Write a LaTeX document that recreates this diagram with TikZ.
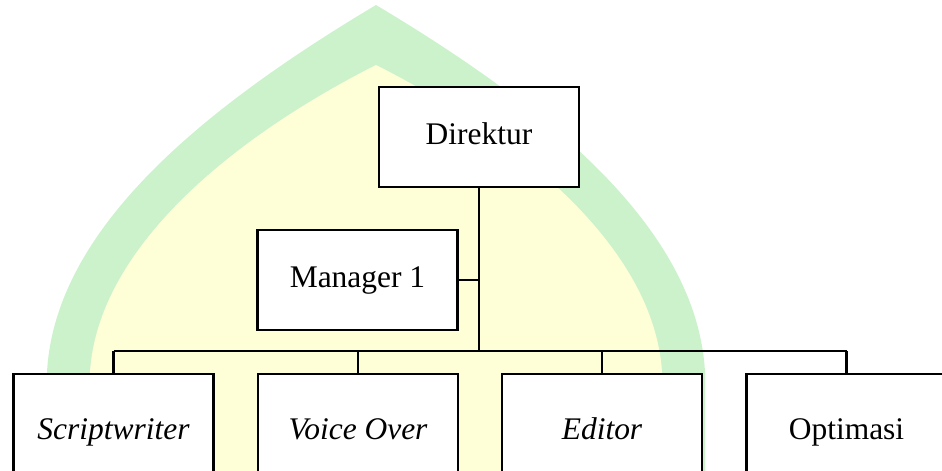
\documentclass[tikz,border=0pt]{standalone}
\usepackage{fontspec}
\setmainfont{Liberation Serif}
\definecolor{domegreen}{RGB}{204,242,204}
\definecolor{domeyellow}{RGB}{255,255,215}
\tikzset{
  orgbox/.style={draw=black, fill=white, line width=1.8pt, minimum width=150pt,
    minimum height=75pt, inner sep=0pt, text height=16pt, text depth=5pt,
    font=\fontsize{23.6}{28}\selectfont},
  lowbox/.style={orgbox, minimum height=87pt},
  orgline/.style={line width=1.6pt}
}
\begin{document}
\begin{tikzpicture}[x=0.75pt, y=-0.75pt]
                        \useasboundingbox (0,0) rectangle (942,471);

                        % Drawing the dome in the background
                        \fill [domegreen] (47,471) -- (47,372) .. controls (55,230) and (200,110) .. (376,5)
                          .. controls (552,110) and (697,230) .. (705,372) -- (705,471) -- cycle;%
                        \fill [domeyellow] (90,471) -- (90,372) .. controls (98,250) and (228,140) .. (376,65)
                          .. controls (524,140) and (654,250) .. (662,372) -- (662,471) -- cycle;%

                        % Drawing box Direktur
                        \node [orgbox] (dir) at (479,137) {Direktur};%

                        % Drawing box Manager 1
                        \node [orgbox] (mgr) at (357.5,280) {Manager 1};%

                        % Drawing the lower boxes
                        \node [lowbox] (sw) at (113.5,432) {\itshape Scriptwriter};%
                        \node [lowbox] (vo) at (358,432) {\itshape Voice Over};%
                        \node [lowbox] (ed) at (602,432) {\itshape Editor};%
                        \node [lowbox] (opt) at (846.5,432) {Optimasi};%

                        % Marking the bus line
                        \coordinate (bus) at (479,351);%

                        % Drawing line Direktur to bus
                        \draw [orgline] (dir.south) -- (dir.south |- bus);%

                        % Drawing line Manager 1
                        \draw [orgline] (mgr.east) -- (mgr.east -| dir.south);%

                        % Drawing the bus
                        \draw [orgline] (sw.north |- bus) -- (opt.north |- bus);%
                        \foreach \n in {sw,vo,ed,opt}
                          \draw [orgline] (\n.north) -- (\n.north |- bus);%
                    \end{tikzpicture}
\end{document}
